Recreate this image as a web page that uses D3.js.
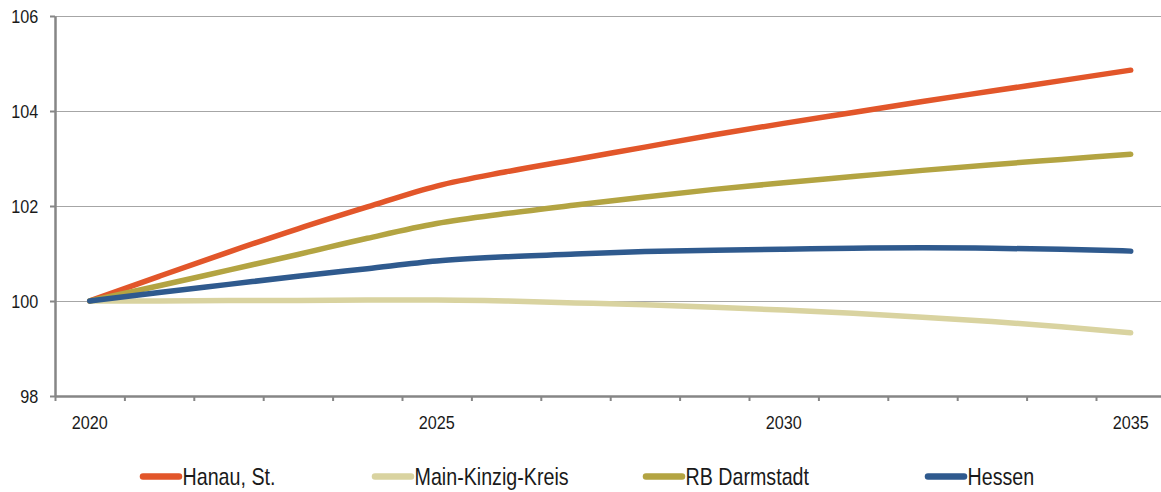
<!DOCTYPE html>
<html>
<head>
<meta charset="utf-8">
<script src="https://cdn.jsdelivr.net/npm/d3@7"></script>
<style>
  html, body { margin: 0; padding: 0; background: #fff; }
  svg { display: block; font-family: "Liberation Sans", Arial, sans-serif; }
</style>
</head>
<body>
<svg id="chart" width="1161" height="492"></svg>
<script>
// ---- data ----
const years = [2020, 2021, 2022, 2023, 2024, 2025, 2026, 2027, 2028, 2029, 2030, 2031, 2032, 2033, 2034, 2035];
const xTickLabels = [2020, 2025, 2030, 2035];
const yTickValues = [98, 100, 102, 104, 106];

const seriesNames = ["Hanau, St.", "Main-Kinzig-Kreis", "RB Darmstadt", "Hessen"];
const hanau  = [100, 100.52, 101.03, 101.52, 101.98, 102.42, 102.72, 102.98, 103.24, 103.50, 103.74, 103.97, 104.20, 104.42, 104.64, 104.86];
const mainKinzig = [100, 100.00, 100.01, 100.01, 100.02, 100.02, 100.00, 99.96, 99.92, 99.87, 99.81, 99.74, 99.66, 99.57, 99.46, 99.33];
const rbDarmstadt = [100, 100.32, 100.65, 100.98, 101.32, 101.63, 101.84, 102.02, 102.19, 102.35, 102.49, 102.62, 102.75, 102.87, 102.98, 103.09];
const hessen = [100, 100.18, 100.35, 100.52, 100.68, 100.84, 100.93, 100.99, 101.04, 101.07, 101.09, 101.11, 101.12, 101.11, 101.09, 101.05];
const seriesColors = ["#E2562A", "#D9D3A0", "#B3A442", "#2F5A8E"];

// ---- layout ----
const W = 1161, H = 492;
const mLeft = 55, mRight = 1165.4, mTop = 16, mBottom = 396;
const svg = d3.select("#chart");

const y = d3.scaleLinear().domain([98, 106]).range([mBottom, mTop]);
const xBand = d3.scaleBand().domain(years).range([mLeft, mRight]).padding(0);
const xBounds = d3.scaleLinear().domain([0, years.length]).range([mLeft, mRight]);

// gridlines
const grid = svg.append("g").attr("transform", `translate(${mLeft},0)`)
  .call(d3.axisLeft(y).tickValues(yTickValues.filter(v => v !== 98)).tickSize(-(W - mLeft)).tickFormat(""));
grid.select(".domain").remove();
grid.selectAll("line").attr("stroke", "#a6a6a6").attr("stroke-width", 1);

// x axis: boundary ticks
const xAxisG = svg.append("g").attr("transform", `translate(0,${mBottom})`)
  .call(d3.axisBottom(xBounds).tickValues(d3.range(0, years.length + 1)).tickSize(5).tickSizeOuter(0).tickFormat(""));
xAxisG.select(".domain").attr("stroke", "#868686").attr("stroke-width", 2.5);
xAxisG.selectAll(".tick line").attr("stroke", "#868686").attr("stroke-width", 2);

// x labels
const xLab = svg.append("g").attr("transform", `translate(0,${mBottom})`)
  .call(d3.axisBottom(xBand).tickValues(xTickLabels).tickSize(0).tickFormat(d3.format("d")));
xLab.select(".domain").remove();
xLab.selectAll("text")
  .attr("y", 26.5).attr("dy", "0.35em")
  .attr("font-size", 18).attr("fill", "#1a1a1a")
  .attr("font-family", "Liberation Sans, Arial, sans-serif")
  .attr("transform", "scale(0.9,1)");

// y axis
const yAxisG = svg.append("g").attr("transform", `translate(${mLeft},0)`)
  .call(d3.axisLeft(y).tickValues(yTickValues).tickSize(5).tickSizeOuter(0).tickFormat(d3.format("d")));
yAxisG.select(".domain").attr("stroke", "#868686").attr("stroke-width", 2.5);
yAxisG.selectAll(".tick line").attr("stroke", "#868686").attr("stroke-width", 2);
yAxisG.selectAll("text")
  .attr("x", -16.7 / 0.9).attr("dy", "0.35em")
  .attr("font-size", 18).attr("fill", "#1a1a1a")
  .attr("font-family", "Liberation Sans, Arial, sans-serif")
  .attr("transform", "scale(0.9,1)");

// lines
const seriesData = [hanau, mainKinzig, rbDarmstadt, hessen];
const line = d3.line()
  .curve(d3.curveMonotoneX)
  .x((d, i) => xBand(years[i]) + xBand.bandwidth() / 2)
  .y(d => y(d));

svg.append("g").selectAll("path")
  .data(seriesData)
  .join("path")
  .attr("d", line)
  .attr("fill", "none")
  .attr("stroke", (d, i) => seriesColors[i])
  .attr("stroke-width", 5.5)
  .attr("stroke-linecap", "round")
  .attr("stroke-linejoin", "round");

// legend
const legendX = [140, 372, 643, 925];
const legendY = 476.5;
const lg = svg.append("g").selectAll("g")
  .data(seriesNames)
  .join("g")
  .attr("transform", (d, i) => `translate(${legendX[i]},${legendY})`);
lg.append("line")
  .attr("x1", 3).attr("x2", 39).attr("y1", 0).attr("y2", 0)
  .attr("stroke", (d, i) => seriesColors[i])
  .attr("stroke-width", 6.5)
  .attr("stroke-linecap", "round");
lg.append("text")
  .attr("x", 42.5 / 0.82).attr("y", 0).attr("dy", "0.35em")
  .attr("font-size", 24).attr("fill", "#1a1a1a")
  .attr("transform", "scale(0.82,1)")
  .text(d => d);
</script>
</body>
</html>
